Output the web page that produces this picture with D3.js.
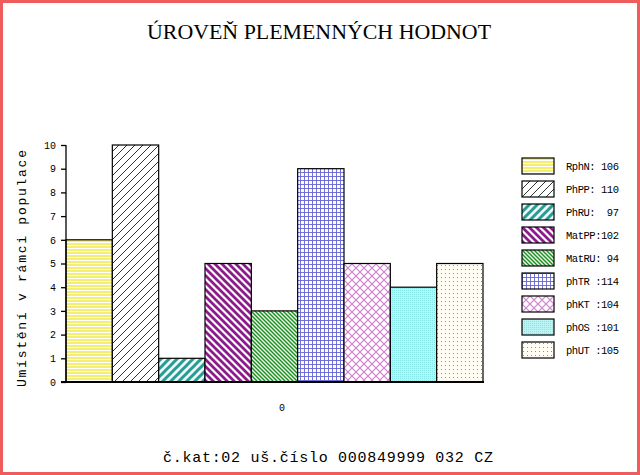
<!DOCTYPE html>
<html><head><meta charset="utf-8">
<script src="https://cdn.jsdelivr.net/npm/d3@7"></script>
<style>
html,body{margin:0;padding:0;background:#fff;}
svg{display:block;}
text{white-space:pre;}
</style></head>
<body>
<svg id="c" width="640" height="475"></svg>
<script>
// ---- data ----
const categories = ["0"];
const seriesNames = ["RphN", "PhPP", "PhRU", "MatPP", "MatRU", "phTR", "phKT", "phOS", "phUT"];
const seriesValues = [6, 10, 1, 5, 3, 9, 5, 4, 5];
const legendLabels = ["RphN: 106", "PhPP: 110", "PhRU:  97", "MatPP:102", "MatRU: 94", "phTR :114", "phKT :104", "phOS :101", "phUT :105"];
const yTicks = [0,1,2,3,4,5,6,7,8,9,10];
const titleText = "ÚROVEŇ PLEMENNÝCH HODNOT";
const yLabel = "Umístění v rámci populace";
const footerText = "č.kat:02 uš.číslo 000849999 032 CZ";

const svg = d3.select("#c");
const mono = "'Liberation Mono', 'DejaVu Sans Mono', monospace";

// ---- patterns ----
const defs = svg.append("defs");
function pat(id, w, h, draw, bg) {
  const p = defs.append("pattern").attr("id", id).attr("patternUnits", "userSpaceOnUse")
    .attr("width", w).attr("height", h);
  p.append("rect").attr("width", w).attr("height", h).attr("fill", bg || "#fff");
  draw(p);
}
// yellow horizontal stripes
pat("p0", 4, 3, p => p.append("rect").attr("width", 4).attr("height", 2).attr("fill", "#f4ef72"));
// thin black "/" lines
pat("p1", 8, 8, p => {
  p.append("path").attr("d", "M-1,9 L9,-1 M-1,1 L1,-1 M7,9 L9,7").attr("stroke", "#000").attr("stroke-width", 0.8);
});
// teal thick "/" stripes
pat("p2", 8, 8, p => {
  p.append("path").attr("d", "M-2,10 L10,-2 M-2,2 L2,-2 M6,10 L10,6").attr("stroke", "#2b9a92").attr("stroke-width", 3);
}, "#e6fbfa");
// purple thick "\" stripes
pat("p3", 7, 7, p => {
  p.append("path").attr("d", "M-2,-2 L9,9 M-2,5 L2,9 M5,-2 L9,2").attr("stroke", "#8c1c8c").attr("stroke-width", 2.8);
});
// green dense "\" lines
pat("p4", 4, 4, p => {
  p.append("path").attr("d", "M-1,-1 L5,5 M-1,3 L1,5 M3,-1 L5,1").attr("stroke", "#1f8c2a").attr("stroke-width", 1.4);
}, "#e8f8e0");
// blue grid
pat("p5", 4, 4, p => {
  p.append("path").attr("d", "M0,0.5 H4 M0.5,0 V4").attr("stroke", "#6464d4").attr("stroke-width", 0.9);
});
// pink diamond lattice
pat("p6", 8, 8, p => {
  p.append("path").attr("d", "M0,0 L8,8 M8,0 L0,8").attr("stroke", "#d080d0").attr("stroke-width", 1.2);
});
// cyan fine dither
pat("p7", 2, 2, p => {
  p.append("rect").attr("width", 1).attr("height", 1).attr("fill", "#88e6e6");
}, "#b8f4f4");
// sparse dots
pat("p8", 4, 4, p => {
  p.append("rect").attr("x", 1).attr("y", 1).attr("width", 1).attr("height", 1).attr("fill", "#9a9080");
}, "#fffcf4");

// ---- frame ----
svg.append("rect").attr("x", 1.5).attr("y", 1.5).attr("width", 637).attr("height", 472)
  .attr("fill", "#fff").attr("stroke", "#ee5c5c").attr("stroke-width", 3);

// ---- scales ----
const y = d3.scaleLinear().domain([0, 10]).range([382, 145]);
const xCat = d3.scaleBand().domain(categories).range([66, 498]);
const xSer = d3.scaleBand().domain(seriesNames).range([66, 483]).padding(0);

// ---- bars ----
svg.append("g").selectAll("rect").data(seriesValues).join("rect")
  .attr("x", (d, i) => xSer(seriesNames[i]))
  .attr("y", d => y(d))
  .attr("width", xSer.bandwidth())
  .attr("height", d => y(0) - y(d))
  .attr("fill", (d, i) => `url(#p${i})`)
  .attr("stroke", "#000").attr("stroke-width", 1.2);

// ---- y axis ----
const yAxis = svg.append("g").attr("transform", "translate(66,0)")
  .call(d3.axisLeft(y).tickValues(yTicks).tickSize(5).tickPadding(5).tickFormat(d3.format("d")));
yAxis.selectAll("path,line").attr("stroke", "#000").attr("stroke-width", 1.3);
yAxis.select(".domain").attr("d", "M0,145V382");
yAxis.selectAll("text").attr("font-family", mono).attr("font-size", 10).attr("fill", "#000");

// ---- x axis (baseline + category label) ----
const xAxis = svg.append("g").attr("transform", "translate(0,382)")
  .call(d3.axisBottom(xCat).tickSize(0).tickPadding(22));
xAxis.select(".domain").attr("d", "M61,0H484").attr("stroke", "#000").attr("stroke-width", 2.2);
xAxis.selectAll("text").attr("font-family", mono).attr("font-size", 10).attr("fill", "#000");

// ---- legend ----
const lg = svg.append("g").selectAll("g").data(legendLabels).join("g")
  .attr("transform", (d, i) => `translate(522,${158 + i * 23})`);
lg.append("rect").attr("width", 32).attr("height", 16)
  .attr("fill", (d, i) => `url(#p${i})`).attr("stroke", "#000").attr("stroke-width", 1.2);
lg.append("text").attr("x", 44).attr("y", 12).attr("font-family", mono).attr("font-size", 10.5)
  .attr("textLength", 53).attr("lengthAdjust", "spacing")
  .attr("fill", "#000").text(d => d);

// ---- title ----
svg.append("text").attr("x", 147).attr("y", 39).attr("font-family", "'Liberation Serif', serif")
  .attr("font-size", 21).attr("textLength", 344).attr("lengthAdjust", "spacingAndGlyphs")
  .attr("fill", "#000").text(titleText);

// ---- y label ----
svg.append("text").attr("transform", "translate(26,387) rotate(-90)")
  .attr("font-family", mono).attr("font-size", 13).attr("textLength", 237).attr("lengthAdjust", "spacing")
  .attr("fill", "#000").text(yLabel);

// ---- footer ----
svg.append("text").attr("x", 163).attr("y", 462).attr("font-family", mono).attr("font-size", 15)
  .attr("textLength", 330).attr("lengthAdjust", "spacing").attr("fill", "#000").text(footerText);
</script>
</body></html>
